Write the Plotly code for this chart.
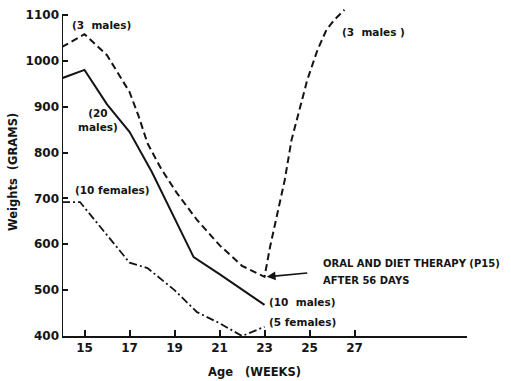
import plotly.graph_objects as go

# Age in weeks and body weight in grams for each group
weeks_3_males = [14, 15, 16, 17, 17.4, 17.8, 18.4, 19.1, 20, 21, 22, 23]
grams_3_males = [1030, 1058, 1012, 932, 880, 820, 765, 712, 653, 598, 553, 529]

# same 3 males after oral and diet therapy (P15)
weeks_therapy = [23.25, 23.55, 23.9, 24.2, 24.55, 24.9, 25.35, 25.75, 26.1, 26.55]
grams_therapy = [595, 660, 740, 827, 893, 958, 1023, 1067, 1089, 1111]

weeks_20_males = [14, 15, 16, 17, 18, 19, 19.85, 21, 22, 23]
grams_20_males = [962, 980, 905, 845, 757, 655, 572, 535, 502, 468]

weeks_females = [14, 14.8, 17, 17.8, 19, 20, 21, 22, 23]
grams_females = [692, 692, 560, 548, 500, 452, 428, 400, 420]

x_ticks = [15, 17, 19, 21, 23, 25, 27]
y_ticks = [400, 500, 600, 700, 800, 900, 1000, 1100]

INK = "#141414"
FONT = "DejaVu Sans"

fig = go.Figure()

fig.add_trace(go.Scatter(
    x=weeks_3_males + weeks_therapy, y=grams_3_males + grams_therapy,
    mode="lines", line=dict(color=INK, width=2, dash="7px,4px"),
))
fig.add_trace(go.Scatter(
    x=weeks_20_males, y=grams_20_males,
    mode="lines", line=dict(color=INK, width=2),
))
fig.add_trace(go.Scatter(
    x=weeks_females, y=grams_females,
    mode="lines", line=dict(color=INK, width=1.8, dash="8px,3px,2px,3px"),
))

# vertical axis line, only as far as the top tick
fig.add_shape(type="line", xref="x", yref="y", x0=14, x1=14, y0=400, y1=1100,
              line=dict(color=INK, width=2))

lbl = dict(family=FONT, size=10.5, color=INK, weight="bold")


def note(text, x, y, xanchor="left", size=10.5):
    fig.add_annotation(text=text, x=x, y=y, xref="x", yref="y", showarrow=False,
                       xanchor=xanchor, yanchor="middle",
                       font=dict(lbl, size=size), align="center")


note("(3  males)", 14.36, 1078)
note("(20<br>males)", 15.6, 871, xanchor="center")
note("(10 females)", 14.5, 718)
note("(3  males )", 26.36, 1063)
note("ORAL AND DIET THERAPY (P15)", 25.5, 557, size=10)
note("AFTER 56 DAYS", 25.5, 522, size=10)
note("(10  males)", 23.1, 474)
note("(5 females)", 23.1, 431)

# arrow pointing at the start of therapy
fig.add_annotation(x=23.1, y=529, xref="x", yref="y", text="", showarrow=True,
                   ax=42, ay=-4, arrowhead=2, arrowsize=1.1, arrowwidth=1.6,
                   arrowcolor=INK, standoff=0)

# axis titles
fig.add_annotation(text="Weights  (GRAMS)", xref="paper", yref="paper",
                   x=-0.121, y=0.5, xanchor="center", showarrow=False, textangle=-90,
                   font=dict(family=FONT, size=11.5, color=INK, weight="bold"))
fig.add_annotation(text="Age   (WEEKS)", xref="paper", yref="paper",
                   x=0.4765, y=-0.11, yanchor="middle", xanchor="center",
                   showarrow=False,
                   font=dict(family=FONT, size=11.5, color=INK, weight="bold"))

tickfont = dict(family=FONT, size=12, color=INK, weight="bold")

fig.update_layout(
    width=511, height=381,
    margin=dict(l=62, r=44, t=8, b=45),
    paper_bgcolor="white", plot_bgcolor="white",
    showlegend=False,
    xaxis=dict(range=[14, 32], tickvals=x_ticks, ticks="inside", ticklen=6,
               tickwidth=1.5, tickcolor=INK, showline=True, linewidth=2,
               linecolor=INK, showgrid=False, zeroline=False, tickfont=tickfont),
    yaxis=dict(range=[400, 1115], tickvals=y_ticks, ticks="inside", ticklen=6,
               tickwidth=1.5, tickcolor=INK, showline=False, showgrid=False,
               zeroline=False, tickfont=tickfont, ticklabelstandoff=2),
)

fig.write_html("out.html")
